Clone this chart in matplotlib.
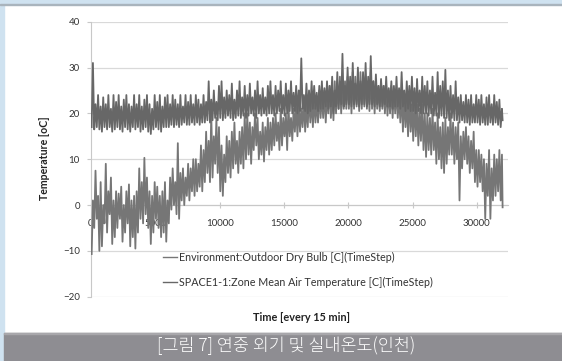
import numpy as np
import matplotlib.pyplot as plt
from matplotlib.patches import Rectangle

plt.rcParams['font.family'] = ['Lato', 'DejaVu Sans']

# one low / high pair for every 200 timesteps (15 min steps),
# ten pairs per row = 2000 timesteps per row
BIN = 200

outdoor_lo = [-10.7, -5, -3, -10, -9, -4, -6, -2, -8.5, -7,
              -5, -3, -8, -6, -4, -9, -7, -9.5, -6, -3,
              -4, -2, -5, -8.5, -6, -3, -5, -7, -6, -8,
              -4, -1, 0, -2, -3, 1, 0, 2, 1, 3,
              2, 3, 4, 3, 5, 7, 5, 6, 9, 7,
              3, 2, 5, 7, 6, 8, 9, 7, 9, 8,
              10, 11, 9, 12, 13, 10, 11, 9.5, 12, 11,
              12, 13, 14, 12, 13, 15, 12, 15, 14, 16,
              15, 16, 17, 16, 17, 18, 17, 18, 18, 19,
              19, 18, 20, 19, 18.5, 20, 21, 20, 21, 21,
              21, 20, 21, 21.5, 20.5, 21, 21.5, 21, 20.5, 21,
              20, 21, 20.5, 21, 20, 19.5, 20, 19, 20, 19,
              18, 16, 17, 15, 16, 14, 15, 13, 14, 12,
              10.5, 12, 11, 12, 9, 10, 8, 7, 9, 11,
              11, 9, 10, 1, 8, 10, 9, 7, 8, 5,
              4, 5, 3, -3, 2, -3, 1, 2, 3, 1]
outdoor_hi = [1, 7.5, 2, 5, 0, 9, 3, 6, 1, 3,
              2.5, 4, 0, 3, 4.5, 1, 2, 3, 8, 5,
              10.3, 6, 3, 2, 5, 4, 2, 3, 5, 1,
              6, 8, 5, 13.5, 7, 8, 6, 9, 8, 10,
              10, 9, 13, 12, 16, 14, 20, 15, 19, 17,
              13, 11, 15, 14, 16, 18, 14, 16, 17, 20,
              20, 18, 17, 20, 19, 16, 18, 17, 19, 18,
              19, 20, 18, 21, 19, 20, 22, 19, 21, 22,
              22, 21, 23, 22, 24, 23, 24, 23, 25, 24,
              25, 24, 26, 25, 27, 26, 28, 26, 27, 28,
              27, 29, 28, 27, 29, 28, 28, 27, 29, 27,
              27, 26, 27, 26, 26, 25, 26, 25, 25, 24,
              25, 24, 23, 24, 22, 23, 22, 21, 22, 20,
              20, 19, 21, 18, 20, 17, 18, 19, 17, 20,
              18, 17, 18, 15, 16, 17, 15, 14, 16, 12,
              12, 11, 10, 9, 12, 8, 11, 10, 12, 11]
outdoor_end = -0.5

zone_lo = [17, 16.5, 17, 16.5, 16, 17, 16.5, 17, 16, 16.5,
           17, 16.5, 16, 17, 16.5, 16, 17, 16.5, 17, 16,
           16.5, 17, 16, 15.5, 16.5, 17, 16.5, 16, 17, 17,
           17, 17.5, 17, 17.5, 17, 17.5, 18, 17.5, 17.5, 18,
           17.5, 18, 17.5, 18, 18, 18.5, 18, 18.5, 19, 18.5,
           19, 18.5, 19, 19.5, 19, 18.5, 19, 19.5, 19, 19.5,
           19, 19.5, 20, 19.5, 19, 20, 19.5, 20, 19.5, 20,
           20, 19.5, 20, 20.5, 20, 19.5, 20, 20.5, 20, 20.5,
           20, 20.5, 21, 20.5, 20, 20.5, 21, 21, 20.5, 21,
           21, 21.5, 21, 21.5, 20, 21.5, 21, 22, 21.5, 22,
           22, 21.5, 22, 22, 21.5, 22, 22, 21.5, 22, 22,
           21.5, 22, 21.5, 21.5, 22, 21.5, 21.5, 21, 21.5, 21.5,
           21, 21.5, 20.5, 21, 20.5, 20.5, 20, 20.5, 20, 20,
           20, 19.5, 20, 19.5, 19.5, 19, 19.5, 19, 19, 18.5,
           19, 18.5, 18.5, 18, 18.5, 18, 18, 17.5, 18, 18,
           18, 17.5, 18, 17.5, 17.5, 18, 17.5, 18, 17.5, 17]
zone_hi = [31, 22, 24, 21.5, 23.5, 22, 24, 21, 24, 22.5,
           24, 21.5, 23, 24, 22, 21.5, 24, 22, 24, 21.5,
           23, 24, 22, 21, 24, 22.5, 24, 21.5, 23.5, 24,
           22, 24, 23, 22, 24, 21.5, 24, 22.5, 24, 22,
           24, 23, 22, 24, 22.5, 27, 23, 25, 22.5, 26,
           27, 23.5, 25, 24, 26.5, 23, 25, 27, 23.5, 26,
           24, 26.5, 23.5, 25, 27, 24, 25.5, 23.5, 26, 27,
           24, 26, 25, 27, 24, 26.5, 25, 27, 24.5, 26,
           25, 32, 24, 26.5, 25, 27, 26, 24.5, 26, 27,
           25.5, 27, 26, 28, 25, 29, 27, 33, 26, 30,
           28, 31, 26.5, 30, 27, 29, 31, 28, 32.5, 27,
           28.5, 26, 27.5, 26, 28, 25.5, 27, 26, 28, 25.5,
           29, 25, 27, 26, 28, 25.5, 27.5, 25, 28, 26,
           27, 25, 28, 24.5, 29, 26, 27, 29.5, 25, 26,
           24, 27, 23.5, 24, 22.5, 24, 23, 24, 22, 24,
           23, 24, 22, 23.5, 24, 22, 24, 22.5, 23, 21]
zone_end = 18.5

x_ticks = [0, 5000, 10000, 15000, 20000, 25000, 30000]
y_ticks = [-20, -10, 0, 10, 20, 30, 40]
series_names = ['Environment:Outdoor Dry Bulb [C](TimeStep)',
                'SPACE1-1:Zone Mean Air Temperature [C](TimeStep)']
caption = '[그림 7] 연중 외기 및 실내온도(인천)'


def zigzag(lo, hi, end):
    n = len(lo)
    t = np.empty(2 * n + 1)
    v = np.empty(2 * n + 1)
    t[0:2 * n:2] = np.arange(n) * BIN + BIN * 0.25
    t[1:2 * n:2] = np.arange(n) * BIN + BIN * 0.75
    v[0:2 * n:2] = lo
    v[1:2 * n:2] = hi
    t[-1] = n * BIN
    v[-1] = end
    return t, v


W, H = 562, 361
fig = plt.figure(figsize=(W / 100, H / 100), dpi=100)

# frame: blue strips left / top, grey caption bar
fig.patches.append(Rectangle((0, 0), 4 / W, 1, color='#cfe2f0', transform=fig.transFigure, zorder=0))
fig.patches.append(Rectangle((0, 1 - 4 / H), 1, 4 / H, color='#cfe2f0', transform=fig.transFigure, zorder=0))
fig.patches.append(Rectangle((0, 1 - 5 / H), 1, 1 / H, color='#a9b4bd', transform=fig.transFigure, zorder=0))
fig.patches.append(Rectangle((4 / W, 0), 1, 28 / H, color='#8e8d92', transform=fig.transFigure, zorder=0))
fig.patches.append(Rectangle((4 / W, 27 / H), 1, 1 / H, color='#a8a7ab', transform=fig.transFigure, zorder=0))
fig.text(286 / W, 1 - 346 / H, caption, color='white', fontsize=12.5, ha='center', va='center',
         family=['Noto Sans CJK JP', 'DejaVu Sans'], fontweight=300)

ax = fig.add_axes([91 / W, 1 - 296.7 / H, 417 / W, 275 / H])
ax.patch.set_visible(False)

# series drawn over the tick labels, as in the original
t, v = zigzag(outdoor_lo, outdoor_hi, outdoor_end)
l1, = ax.plot(t, v, color='#767676', lw=1.3, label=series_names[0], zorder=3)
t, v = zigzag(zone_lo, zone_hi, zone_end)
l2, = ax.plot(t, v, color='#676767', lw=1.3, label=series_names[1], zorder=3)

ax.set_xlim(0, 32420)
ax.set_ylim(-20, 40)
ax.set_xticks(x_ticks)
ax.set_yticks(y_ticks)
ax.grid(axis='y', color='#d9d9d9', lw=0.9)
ax.set_axisbelow(True)

for s in ['top', 'right']:
    ax.spines[s].set_visible(False)
ax.spines['bottom'].set_position(('data', 0))
ax.spines['bottom'].set_color('#c8c8c8')
ax.spines['left'].set_color('#c8c8c8')
ax.tick_params(axis='x', direction='inout', length=4, color='#c8c8c8', pad=8,
               labelsize=7.0, labelcolor='#333333')
ax.tick_params(axis='y', direction='out', length=3, color='#c8c8c8', pad=5,
               labelsize=7.0, labelcolor='#333333')

ax.set_xlabel('Time [every 15 min]', fontsize=7.8, fontweight='bold', color='#222222')
ax.xaxis.set_label_coords(0.504, -0.056)
ax.set_ylabel('Temperature [oC]', fontsize=7.6, fontweight='bold', color='#222222')
ax.yaxis.set_label_coords(-0.098, 0.504)

leg = fig.legend(handles=[l1, l2], loc='upper left', bbox_to_anchor=(163 / W, 1 - 252 / H),
                 frameon=False, fontsize=7.75, handlelength=1.3, handletextpad=0.15,
                 labelspacing=1.3, borderpad=0, borderaxespad=0, labelcolor='#333333')
for h in leg.legend_handles:
    h.set_linewidth(1.0)

fig.savefig('out.png', dpi=100)
